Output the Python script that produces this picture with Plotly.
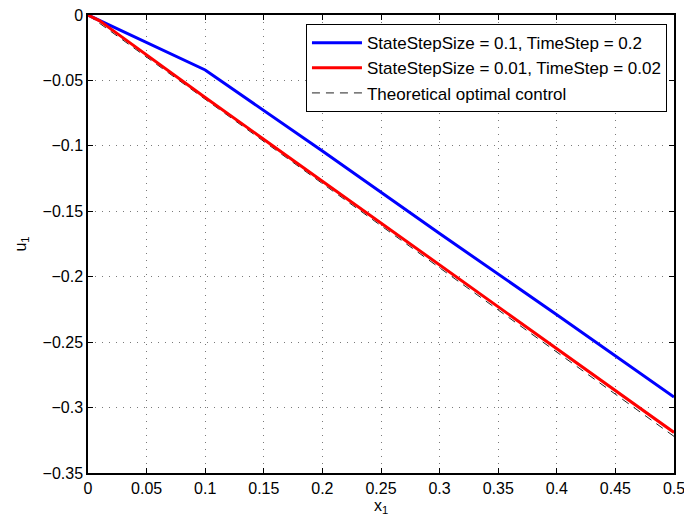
import plotly.graph_objects as go

# Data
blue_x = [0.0, 0.1, 0.2, 0.3, 0.4, 0.5]
blue_y = [0.0, -0.042, -0.104, -0.167, -0.229, -0.292]

red_x = [0.0, 0.01, 0.02, 0.1, 0.2, 0.3, 0.4, 0.5]
red_y = [0.0, -0.0045, -0.011, -0.063, -0.127, -0.191, -0.255, -0.319]

theory_x = [0.0, 0.5]
theory_y = [0.0, -0.322]

x_ticks = [0, 0.05, 0.1, 0.15, 0.2, 0.25, 0.3, 0.35, 0.4, 0.45, 0.5]
y_ticks = [-0.35, -0.3, -0.25, -0.2, -0.15, -0.1, -0.05, 0]

names = ["StateStepSize = 0.1, TimeStep = 0.2",
         "StateStepSize = 0.01, TimeStep = 0.02",
         "Theoretical optimal control"]

FONT = "Liberation Sans, Arial, Helvetica, sans-serif"

fig = go.Figure()
fig.add_trace(go.Scatter(x=theory_x, y=theory_y, mode="lines", name=names[2],
                         line=dict(color="#222222", width=1, dash="8px,6px"),
                         legendrank=3))
fig.add_trace(go.Scatter(x=blue_x, y=blue_y, mode="lines", name=names[0],
                         line=dict(color="#0000ff", width=3), legendrank=1))
fig.add_trace(go.Scatter(x=red_x, y=red_y, mode="lines", name=names[1],
                         line=dict(color="#ff0000", width=3), legendrank=2))

axis_common = dict(
    showline=True, linecolor="black", linewidth=1.5, mirror="ticks",
    ticks="inside", ticklen=5, tickcolor="black",
    showgrid=True, gridcolor="#7a7a7a", gridwidth=1, griddash="1px,6px",
    zeroline=False, automargin=False, ticklabeloverflow="allow",
    tickfont=dict(family=FONT, size=16, color="black"),
)

fig.update_layout(
    width=684, height=522,
    margin=dict(l=88, r=10, t=15, b=49),
    paper_bgcolor="white", plot_bgcolor="white",
    font=dict(family=FONT, size=16, color="black"),
    showlegend=True,
    legend=dict(x=0.988, y=0.98, xanchor="right", yanchor="top",
                bgcolor="white", bordercolor="black", borderwidth=1,
                font=dict(family=FONT, size=17, color="black"),
                tracegroupgap=0, itemwidth=50),
    xaxis=dict(range=[0, 0.5], tickvals=x_ticks,
               title=dict(text="x<sub>1</sub>", standoff=2,
                          font=dict(family=FONT, size=16)),
               **axis_common),
    yaxis=dict(range=[-0.35, 0], tickvals=y_ticks,
               title=dict(text="u<sub>1</sub>", standoff=12,
                          font=dict(family=FONT, size=16)),
               **axis_common),
)

fig.write_html("out.html")
